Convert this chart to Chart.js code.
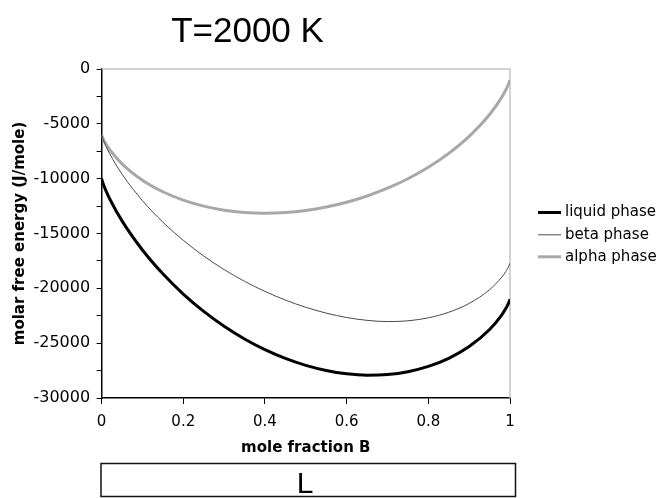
<!DOCTYPE html>
<html>
<head>
<meta charset="utf-8">
<script src="https://cdn.jsdelivr.net/npm/chart.js@4/dist/chart.umd.min.js"></script>
<style>
  html, body { margin: 0; padding: 0; background: #ffffff; }
  #wrap { position: relative; width: 663px; height: 498px; }
  canvas { display: block; }
</style>
</head>
<body>
<div id="wrap"><canvas id="c" width="663" height="498"></canvas></div>
<script>
// ---- data ----
const chartTitle = "T=2000 K";
const phaseBoxLabel = "L";
const seriesNames = ["liquid phase", "beta phase", "alpha phase"];
const xTitle = "mole fraction B";
const yTitle = "molar free energy (J/mole)";

const moleFractionB = [0, 0.005, 0.01, 0.02, 0.05, 0.1, 0.15, 0.2, 0.25, 0.3, 0.35, 0.4, 0.45, 0.5,
                       0.55, 0.6, 0.65, 0.7, 0.75, 0.8, 0.85, 0.9, 0.95, 0.98, 0.99, 0.995, 1];

const liquidG = [-10000, -10578, -11041, -11850, -13851, -16505, -18679, -20521, -22100, -23457, -24616, -25591, -26392, -27026,
                 -27492, -27791, -27916, -27857, -27600, -27121, -26379, -25305, -23751, -22410, -21821, -21468, -21000];

const betaG = [-6000, -6551, -6987, -7742, -9591, -12000, -13960, -15620, -17050, -18290, -19360, -20280, -21070, -21730,
               -22260, -22660, -22920, -23030, -22962, -22689, -22183, -21377, -20121, -18974, -18453, -18134, -17700];

const alphaG = [-6000, -6456, -6797, -7363, -8647, -10140, -11195, -11961, -12506, -12872, -13082, -13151, -13088, -12901,
                -12588, -12151, -11582, -10872, -10006, -8961, -7695, -6140, -4147, -2563, -1897, -1506, -1000];

const xTickValues = [0, 0.2, 0.4, 0.6, 0.8, 1];
const yMajorStep = 5000;
const yMinorStep = 2500;
const yMin = -30000, yMax = 0;

// ---- chart ----
const toPoints = (ys) => moleFractionB.map((x, i) => ({ x: x, y: ys[i] }));

const styles = [
  { color: "#000000", width: 3 },
  { color: "#4a4a4a", width: 1 },
  { color: "#a8a8a8", width: 3 }
];
const seriesValues = [liquidG, betaG, alphaG];

const datasets = seriesNames.map((name, i) => ({
  label: name,
  data: toPoints(seriesValues[i]),
  borderColor: styles[i].color,
  backgroundColor: styles[i].color,
  borderWidth: styles[i].width,
  pointRadius: 0,
  fill: false,
  cubicInterpolationMode: "monotone"
}));

const decorPlugin = {
  id: "decor",
  beforeDatasetsDraw(chart) {
    const { ctx, chartArea: a } = chart;
    ctx.save();
    ctx.strokeStyle = "#c4c4c4";
    ctx.lineWidth = 1.5;
    ctx.beginPath();
    ctx.moveTo(a.left, a.top);
    ctx.lineTo(a.right, a.top);
    ctx.lineTo(a.right, a.bottom);
    ctx.stroke();
    ctx.restore();
  },
  afterDraw(chart) {
    const { ctx } = chart;
    ctx.save();
    // title
    ctx.fillStyle = "#000";
    ctx.font = "35px 'Liberation Sans', Arial, sans-serif";
    ctx.textAlign = "center";
    ctx.textBaseline = "alphabetic";
    ctx.fillText(chartTitle, 247.5, 41.5);

    // legend
    ctx.font = "15px 'DejaVu Sans', sans-serif";
    ctx.textAlign = "left";
    ctx.textBaseline = "middle";
    const rowY = [212.5, 234.8, 256.8];
    chart.data.datasets.forEach((ds, i) => {
      ctx.strokeStyle = ds.borderColor;
      ctx.lineWidth = ds.borderWidth;
      ctx.beginPath();
      ctx.moveTo(538, rowY[i]);
      ctx.lineTo(561, rowY[i]);
      ctx.stroke();
      ctx.fillStyle = "#000";
      ctx.fillText(ds.label, 565, rowY[i]);
    });

    // phase box
    ctx.strokeStyle = "#111";
    ctx.lineWidth = 1.5;
    ctx.strokeRect(101, 463.5, 414.5, 33);
    ctx.fillStyle = "#000";
    ctx.font = "30px 'Liberation Sans', Arial, sans-serif";
    ctx.textAlign = "center";
    ctx.textBaseline = "alphabetic";
    ctx.fillText(phaseBoxLabel, 305, 493);
    ctx.restore();
  }
};

new Chart(document.getElementById("c"), {
  type: "line",
  data: { datasets: datasets },
  options: {
    responsive: false,
    animation: false,
    devicePixelRatio: 1,
    layout: { padding: { top: 69, right: 153, bottom: 40, left: 0 } },
    plugins: {
      legend: { display: false },
      title: { display: false },
      tooltip: { enabled: false }
    },
    scales: {
      x: {
        type: "linear",
        min: 0, max: 1,
        afterFit: (s) => { s.height = 60; },
        afterBuildTicks: (s) => { s.ticks = xTickValues.map(v => ({ value: v })); },
        ticks: {
          color: "#000",
          font: { family: "'DejaVu Sans', sans-serif", size: 15 },
          padding: 9,
          maxRotation: 0,
          autoSkip: false,
          callback: (v) => String(Number(Number(v).toFixed(1)))
        },
        grid: { drawOnChartArea: false, drawTicks: true, tickLength: 6, color: "#000", lineWidth: 1 },
        border: { display: true, color: "#000", width: 1.5 },
        title: {
          display: true, text: xTitle, color: "#000",
          font: { family: "'DejaVu Sans', sans-serif", size: 15, weight: "bold" },
          padding: { top: 0, bottom: 1 }
        }
      },
      y: {
        type: "linear",
        min: yMin, max: yMax,
        afterFit: (s) => { s.width = 101.6; },
        ticks: {
          stepSize: yMinorStep,
          color: "#000",
          autoSkip: false,
          font: { family: "'DejaVu Sans', sans-serif", size: 16 },
          padding: 6.5,
          callback: (v) => (v % yMajorStep === 0 ? String(v) : "")
        },
        grid: { drawOnChartArea: false, drawTicks: true, tickLength: 5, color: "#000", lineWidth: 1 },
        border: { display: true, color: "#000", width: 1.5 },
        title: {
          display: true, text: yTitle, color: "#000",
          font: { family: "'DejaVu Sans', sans-serif", size: 15, weight: "bold" },
          padding: { top: 11, bottom: 0 }
        }
      }
    }
  },
  plugins: [decorPlugin]
});
</script>
</body>
</html>
